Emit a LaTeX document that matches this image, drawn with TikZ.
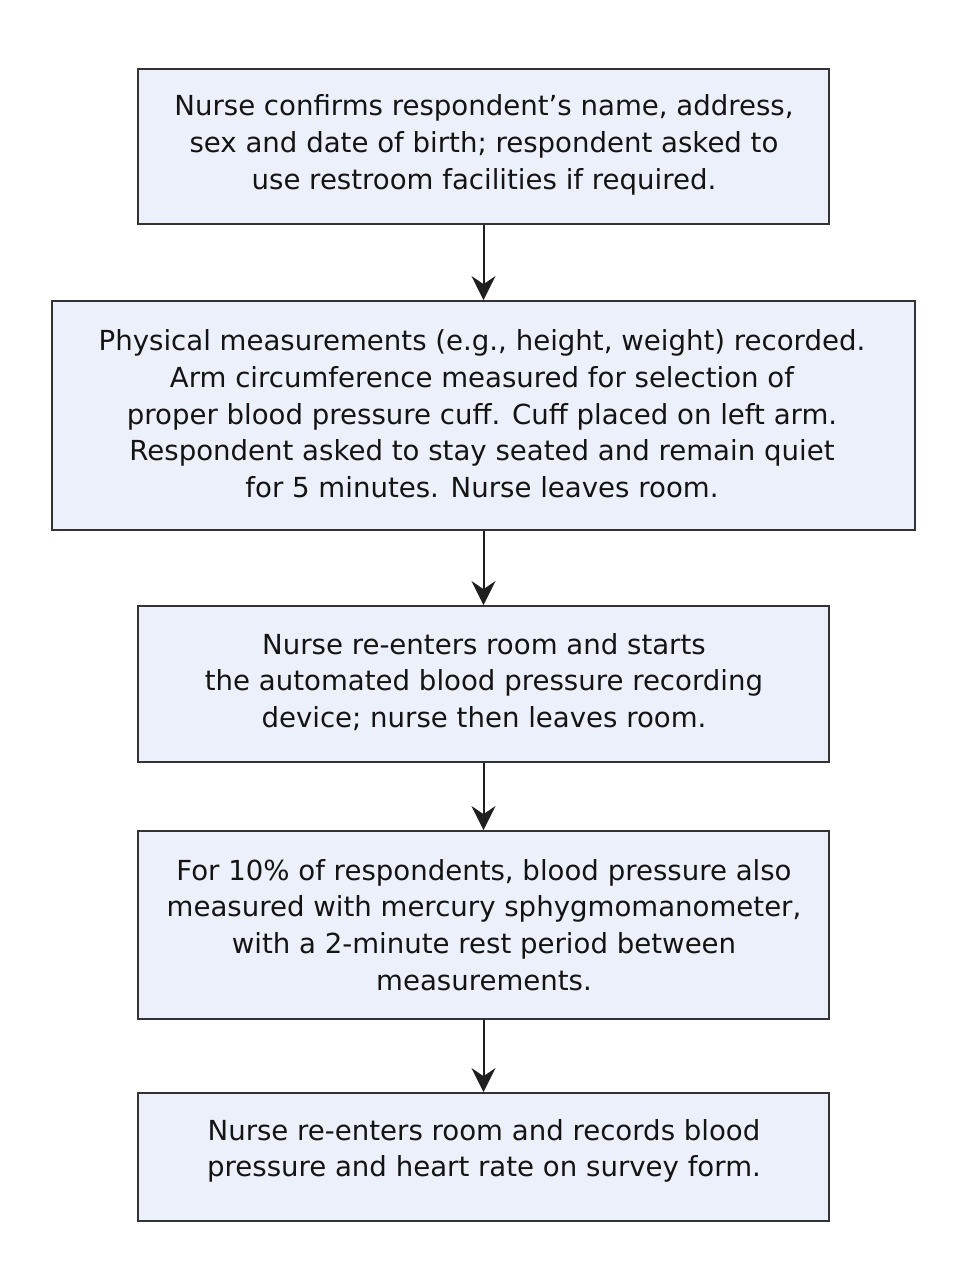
\documentclass[tikz,border=0pt]{standalone}
\usepackage{fontspec}
\setmainfont{DejaVu Sans}
\usetikzlibrary{arrows.meta}
\definecolor{boxfill}{HTML}{EBF0FA}
\definecolor{boxline}{HTML}{333333}
\begin{document}
\begin{tikzpicture}[x=1pt,y=-1pt,
  stepbox/.style={draw=boxline,line width=1.8pt,fill=boxfill,inner sep=0pt},
  txt/.style={align=center,font=\fontsize{27.6}{36.7}\selectfont,text=black!92},
  flow/.style={line width=2pt,draw=black!88,-{Stealth[length=24pt,width=24pt,inset=8pt]}}]
\useasboundingbox (0,0) rectangle (963,1280);
\node[stepbox,minimum width=691pt,minimum height=155pt] (b1) at (483.5,146.5) {};
\node[stepbox,minimum width=863pt,minimum height=229pt] (b2) at (483.5,415.5) {};
\node[stepbox,minimum width=691pt,minimum height=156pt] (b3) at (483.5,684) {};
\node[stepbox,minimum width=691pt,minimum height=188pt] (b4) at (483.5,925) {};
\node[stepbox,minimum width=691pt,minimum height=128pt] (b5) at (483.5,1157) {};
\node[txt] (t1) at (484,145) {Nurse confirms respondent’s name, address,\\sex and date of birth; respondent asked to\\use restroom facilities if required.};
\node[txt] (t2) at (482,414) {Physical measurements (e.g., height, weight) recorded.\\Arm circumference measured for selection of\\proper blood pressure cuff. Cuff placed on left arm.\\Respondent asked to stay seated and remain quiet\\for 5 minutes. Nurse leaves room.};
\node[txt] (t3) at (484,682) {Nurse re-enters room and starts\\the automated blood pressure recording\\device; nurse then leaves room.};
\node[txt] (t4) at (484,925) {For 10\% of respondents, blood pressure also\\measured with mercury sphygmomanometer,\\with a 2-minute rest period between\\measurements.};
\node[txt] (t5) at (484,1151) {Nurse re-enters room and records blood\\pressure and heart rate on survey form.};
\draw[flow] (b1.south) -- (b2.north);
\draw[flow] (b2.south) -- (b3.north);
\draw[flow] (b3.south) -- (b4.north);
\draw[flow] (b4.south) -- (b5.north);
\end{tikzpicture}
\end{document}
